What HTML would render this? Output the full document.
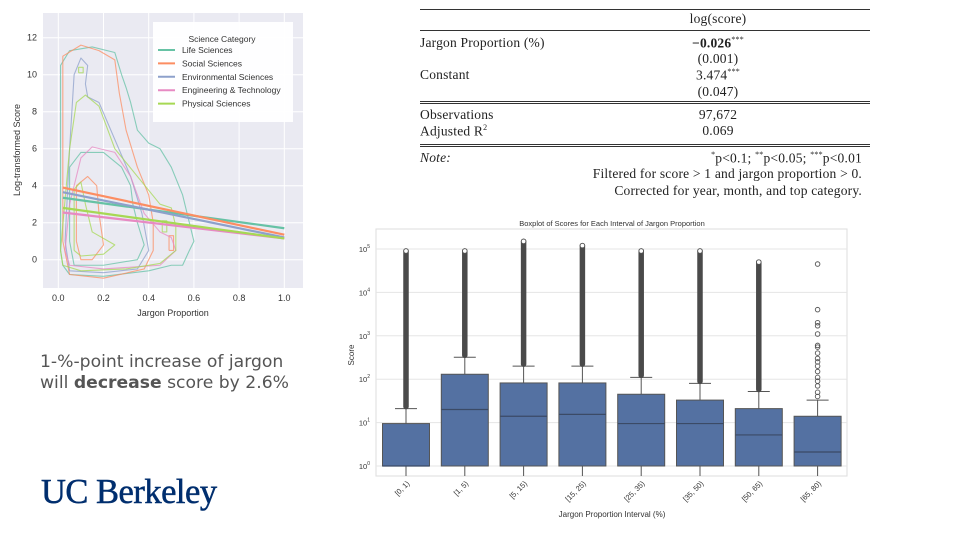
<!DOCTYPE html>
<html><head><meta charset="utf-8"><style>
body{margin:0;width:960px;height:540px;background:#fff;overflow:hidden;font-family:"Liberation Sans",sans-serif;position:relative}
.abs{position:absolute}
.tbl{font-family:"Liberation Serif",serif;font-size:13.5px;color:#222;letter-spacing:0.2px}
</style></head><body>
<svg id="kde" class="abs" style="left:0;top:0" width="320" height="330"></svg>

<div class="tbl abs" style="left:0;top:0;width:960px;height:210px">
 <div class="abs" style="left:420px;top:9px;width:450px;border-top:1px solid #333"></div>
 <div class="abs" style="left:660px;top:11px;width:116px;text-align:center">log(score)</div>
 <div class="abs" style="left:420px;top:30px;width:450px;border-top:1px solid #333"></div>
 <div class="abs" style="left:420px;top:35px">Jargon Proportion (%)</div>
 <div class="abs" style="left:650px;top:35px;width:136px;text-align:center"><b>−0.026</b><sup style="font-size:8px">***</sup></div>
 <div class="abs" style="left:650px;top:51px;width:136px;text-align:center">(0.001)</div>
 <div class="abs" style="left:420px;top:67px">Constant</div>
 <div class="abs" style="left:650px;top:67px;width:136px;text-align:center">3.474<sup style="font-size:8px">***</sup></div>
 <div class="abs" style="left:650px;top:84px;width:136px;text-align:center">(0.047)</div>
 <div class="abs" style="left:420px;top:101px;width:450px;border-top:1px solid #333;border-bottom:1px solid #333;height:1px"></div>
 <div class="abs" style="left:420px;top:107px">Observations</div>
 <div class="abs" style="left:650px;top:107px;width:136px;text-align:center">97,672</div>
 <div class="abs" style="left:420px;top:123px">Adjusted R<sup style="font-size:8px">2</sup></div>
 <div class="abs" style="left:650px;top:123px;width:136px;text-align:center">0.069</div>
 <div class="abs" style="left:420px;top:144px;width:450px;border-top:1px solid #333;border-bottom:1px solid #333;height:1px"></div>
 <div class="abs" style="left:420px;top:150px"><i>Note:</i></div>
 <div class="abs" style="left:480px;top:150px;width:382px;text-align:right"><sup style="font-size:8px">*</sup>p&lt;0.1; <sup style="font-size:8px">**</sup>p&lt;0.05; <sup style="font-size:8px">***</sup>p&lt;0.01</div>
 <div class="abs" style="left:480px;top:166px;width:382px;text-align:right">Filtered for score &gt; 1 and jargon proportion &gt; 0.</div>
 <div class="abs" style="left:480px;top:183px;width:382px;text-align:right">Corrected for year, month, and top category.</div>
</div>

<div class="abs" style="left:40px;top:352px;line-height:21px;color:#555;font-family:'DejaVu Sans','Liberation Sans',sans-serif;font-size:17.2px">1-%-point increase of jargon<br>will <b>decrease</b> score by 2.6%</div>
<div class="abs" style="left:41px;top:473px;font-family:'Liberation Serif',serif;font-size:34.5px;color:#002e6e;letter-spacing:-0.5px;-webkit-text-stroke:0.5px #002e6e">UC Berkeley</div>

<svg id="box" class="abs" style="left:340px;top:210px" width="600" height="330"></svg>

<script>
const NS="http://www.w3.org/2000/svg";
function mk(p,t,a){const e=document.createElementNS(NS,t);for(const k in a)e.setAttribute(k,a[k]);p.appendChild(e);return e;}

// ---------- KDE chart data ----------
const kdeXTicks=[0,0.2,0.4,0.6,0.8,1.0];
const kdeYTicks=[0,2,4,6,8,10,12];
const categories=["Life Sciences","Social Sciences","Environmental Sciences","Engineering & Technology","Physical Sciences"];
const catColors=["#66c2a5","#fc8d62","#8da0cb","#e78ac3","#a6d854"];
const regStart=[3.35,3.9,3.65,2.55,2.8];
const regEnd=[1.7,1.35,1.2,1.15,1.15];
const lifeOuter=[[0.01,0.5],[0.01,10.5],[0.05,11.3],[0.15,11.5],[0.25,11.2],[0.28,10],[0.3,9.3],[0.32,8.5],[0.35,7],[0.4,6.3],[0.45,6],[0.5,5],[0.55,3.5],[0.58,2],[0.6,1],[0.58,0.5],[0.55,-0.3],[0.5,-0.3],[0.4,-0.6],[0.2,-0.9],[0.05,-0.8],[0.02,-0.3],[0.01,0.5]];
const lifeInner=[[0.05,1],[0.05,5],[0.1,5.8],[0.2,5.8],[0.28,5],[0.32,4],[0.33,3],[0.35,2],[0.38,0.8],[0.35,0],[0.2,-0.3],[0.07,-0.3],[0.05,1]];
const socOuter=[[0.02,1],[0.02,11],[0.1,11.6],[0.18,11.3],[0.25,10.8],[0.27,9],[0.3,7],[0.35,5],[0.4,3.5],[0.42,2],[0.42,0.5],[0.38,-0.5],[0.2,-1],[0.05,-0.8],[0.02,1]];
const socInner=[[0.08,1],[0.08,4],[0.13,4.5],[0.17,4],[0.18,2.5],[0.2,0.8],[0.15,0],[0.1,0],[0.08,1]];
const socSmall=[[0.49,0.5],[0.49,1.3],[0.51,1.3],[0.51,0.5],[0.49,0.5]];
const envOuter=[[0.03,1],[0.05,6],[0.07,10],[0.1,10.9],[0.13,10.5],[0.12,9.5],[0.13,8.8],[0.18,8.5],[0.25,6.5],[0.32,4.5],[0.37,2.5],[0.4,0.5],[0.35,-0.5],[0.2,-0.7],[0.05,-0.6],[0.03,1]];
const engOuter=[[0.03,0.5],[0.05,3],[0.1,5.5],[0.15,6.1],[0.25,5.8],[0.32,4.5],[0.38,2.5],[0.45,1.5],[0.5,1.2],[0.52,0.5],[0.45,-0.3],[0.2,-0.5],[0.05,-0.3],[0.03,0.5]];
const physOuter=[[0.01,0.5],[0.05,6],[0.08,8.5],[0.12,8.9],[0.18,8.3],[0.25,6],[0.35,4.5],[0.45,3],[0.5,2.8],[0.52,1.8],[0.52,0.5],[0.45,-0.2],[0.3,-0.5],[0.1,-0.6],[0.02,-0.3],[0.01,0.5]];
const physInner=[[0.07,0.5],[0.07,3.8],[0.1,4.2],[0.12,3],[0.15,1.5],[0.25,0.8],[0.2,0.3],[0.1,0.2],[0.07,0.5]];
const physSmall=[[0.46,1.5],[0.46,2.1],[0.48,2.1],[0.48,1.5],[0.46,1.5]];
const physTop=[[0.09,10.1],[0.09,10.4],[0.11,10.4],[0.11,10.1],[0.09,10.1]];
const contours=[[lifeOuter,0],[lifeInner,0],[socOuter,1],[socInner,1],[socSmall,1],[envOuter,2],[engOuter,3],[physOuter,4],[physInner,4],[physSmall,4],[physTop,4]];

(function(){
 const s=document.getElementById('kde');
 const L=43,R=303,T=13,B=288;
 const X=v=>58.3+v*226, Y=v=>259.7-v*18.5;
 const bg=mk(s,'rect',{x:L,y:T,width:R-L,height:B-T,fill:'#eaeaf2'});
 
 
 kdeXTicks.forEach(t=>{mk(s,'line',{x1:X(t),x2:X(t),y1:T,y2:B,stroke:'#fff','stroke-width':1});
  const tx=mk(s,'text',{x:X(t),y:B+13,'font-size':9,fill:'#333','text-anchor':'middle'});tx.textContent=t.toFixed(1);
  });
 kdeYTicks.forEach(t=>{mk(s,'line',{x1:L,x2:R,y1:Y(t),y2:Y(t),stroke:'#fff','stroke-width':1});
  const tx=mk(s,'text',{x:L-6,y:Y(t)+3,'font-size':9,fill:'#333','text-anchor':'end'});tx.textContent=t;
  });
 contours.forEach(([pts,c])=>{
  const p=mk(s,'polyline',{points:pts.map(q=>X(q[0])+','+Y(q[1])).join(' '),fill:'none',stroke:catColors[c],'stroke-width':1.1,'stroke-opacity':0.75,'stroke-linejoin':'round'});
  });
 categories.forEach((c,i)=>{
  const l=mk(s,'line',{x1:X(0.02),y1:Y(regStart[i]),x2:X(1),y2:Y(regEnd[i]),stroke:catColors[i],'stroke-width':2.2});
  });
 const lg=mk(s,'g',{});
 mk(lg,'rect',{x:153,y:22,width:140,height:100,fill:'#fff','fill-opacity':0.95});
 const lt=mk(lg,'text',{x:222,y:42,'font-size':8.5,fill:'#333','text-anchor':'middle'});lt.textContent='Science Category';
 categories.forEach((c,i)=>{const y=53+i*13.4;
  mk(lg,'line',{x1:158,x2:175,y1:y-3,y2:y-3,stroke:catColors[i],'stroke-width':2});
  const t=mk(lg,'text',{x:182,y:y,'font-size':8.5,fill:'#333'});t.textContent=c;
  });
 const xl=mk(s,'text',{x:173,y:316,'font-size':9,fill:'#333','text-anchor':'middle'});xl.textContent='Jargon Proportion';
 
 const yl=mk(s,'text',{x:0,y:0,'font-size':9,fill:'#333','text-anchor':'middle',transform:'translate(20,150) rotate(-90)'});yl.textContent='Log-transformed Score';
 
})();

// ---------- Boxplot data ----------
const intervals=["[0, 1)","[1, 5)","[5, 15)","[15, 25)","[25, 35)","[35, 50)","[50, 65)","[65, 80)"];
const q1=[1,1,1,1,1,1,1,1];
const medians=[1,20,14,15.5,9.5,9.5,5.2,2.1];
const q3=[9.5,130,82,82,45,33,21,14];
const whiskerTop=[21,320,200,200,110,80,52,33];
const outlierMax=[90000,90000,150000,120000,90000,90000,50000,45000];
const sparseOutliers=[[],[],[],[],[],[],[],[40,50,70,90,110,150,200,250,300,400,550,600,1100,1700,2000,4000]];
const yExps=[0,1,2,3,4,5];

(function(){
 const s=document.getElementById('box');
 const L=36,R=507,T=19,B=266;
 const Y=v=>256-Math.log10(v)*43.4;
 const X=i=>66+i*58.8;
 const bw=47;
 const tt=mk(s,'text',{x:272,y:16,'font-size':7.5,fill:'#333','text-anchor':'middle'});tt.textContent='Boxplot of Scores for Each Interval of Jargon Proportion';
 
 mk(s,'rect',{x:L,y:T,width:R-L,height:B-T,fill:'#fff',stroke:'#ddd','stroke-width':1});
 yExps.forEach(e=>{const y=Y(Math.pow(10,e));
  mk(s,'line',{x1:L,x2:R,y1:y,y2:y,stroke:'#e5e5e5','stroke-width':1});
  const t=mk(s,'text',{x:L-6,y:y+3,'font-size':7.5,fill:'#333','text-anchor':'end'});
  
  t.textContent='10';const sp=mk(t,'tspan',{dy:-4,'font-size':5});sp.textContent=e;});
 intervals.forEach((lab,i)=>{
  const x=X(i);const g=mk(s,'g',{});
  
  mk(g,'line',{x1:x,x2:x,y1:Y(whiskerTop[i]),y2:Y(q3[i]),stroke:'#555','stroke-width':1});
  mk(g,'line',{x1:x-11,x2:x+11,y1:Y(whiskerTop[i]),y2:Y(whiskerTop[i]),stroke:'#555','stroke-width':1});
  mk(g,'line',{x1:x,x2:x,y1:Y(q1[i]),y2:B,stroke:'#555','stroke-width':1});
  mk(g,'rect',{x:x-bw/2,y:Y(q3[i]),width:bw,height:Y(q1[i])-Y(q3[i]),fill:'#5471a2',stroke:'#555','stroke-width':1});
  mk(g,'line',{x1:x-bw/2,x2:x+bw/2,y1:Y(medians[i]),y2:Y(medians[i]),stroke:'#3b4a66','stroke-width':1.2});
  if(sparseOutliers[i].length===0){
   mk(g,'line',{x1:x,x2:x,y1:Y(outlierMax[i]),y2:Y(whiskerTop[i])-2,stroke:'#4a4a4a','stroke-width':5.5,'stroke-linecap':'round'});
  } else {
   sparseOutliers[i].forEach(v=>mk(g,'circle',{cx:x,cy:Y(v),r:2.3,fill:'none',stroke:'#555','stroke-width':0.9}));
  }
  mk(g,'circle',{cx:x,cy:Y(outlierMax[i]),r:2.3,fill:'#fff',stroke:'#555','stroke-width':0.9});
  const t=mk(s,'text',{x:0,y:0,'font-size':7.5,fill:'#333','text-anchor':'end',transform:`translate(${x+4},${B+8}) rotate(-45)`});
  t.textContent=lab;
 });
 const xl=mk(s,'text',{x:272,y:307,'font-size':8,fill:'#333','text-anchor':'middle'});xl.textContent='Jargon Proportion Interval (%)';
 
 const yl=mk(s,'text',{x:0,y:0,'font-size':8,fill:'#333','text-anchor':'middle',transform:'translate(14,145) rotate(-90)'});yl.textContent='Score';
 
})();
</script>
</body></html>
